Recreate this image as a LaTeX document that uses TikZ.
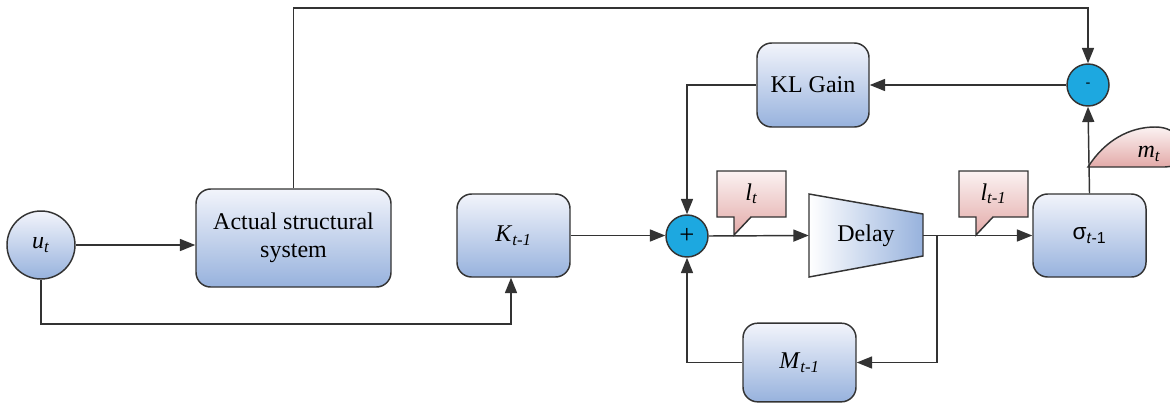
\documentclass[tikz,border=0pt]{standalone}
\usepackage{fontspec}
\setmainfont{Liberation Serif}
\setsansfont{Liberation Sans}
\usetikzlibrary{arrows.meta}
\definecolor{boxtop}{HTML}{F2F4FB}
\definecolor{boxbot}{HTML}{97B2DD}
\definecolor{caltop}{HTML}{FBF2F2}
\definecolor{calbot}{HTML}{E3AAA8}
\definecolor{sumc}{HTML}{1DA8E0}
\definecolor{linec}{HTML}{333333}
\begin{document}
\begin{tikzpicture}[x=0.75pt,y=-0.75pt,
  font=\rmfamily\fontsize{18}{21}\selectfont,
  blk/.style={draw=linec, line width=1.1pt, rounded corners=11pt, top color=boxtop, bottom color=boxbot, inner sep=0pt, align=center},
  sumnode/.style={circle, draw=linec, line width=1.1pt, fill=sumc, minimum size=31.5pt, inner sep=0pt},
  calloutbox/.style={draw=linec, line width=1.1pt, top color=caltop, bottom color=calbot},
  arr/.style={draw=linec, line width=1.1pt, -{Triangle[length=11.5pt,width=9pt]}},
  lbl/.style={inner sep=0pt}
]
\useasboundingbox (0,0) rectangle (1170,404);

% blocks
\node[circle, draw=linec, line width=1.1pt, top color=boxtop, bottom color=boxbot, minimum size=51pt, inner sep=0pt] (ut) at (41,245) {\textit{u}\textsubscript{\textit{t}}};
\node[blk, minimum width=146.25pt, minimum height=73.5pt] (asys) at (293.5,238) {Actual structural\\system};
\node[blk, minimum width=84.75pt, minimum height=62.25pt] (K) at (513.5,235.5) {\textit{K}\textsubscript{\textit{t-1}}};
\node[sumnode] (plus) at (687,236) {\fontsize{20}{20}\selectfont +};
\node[blk, minimum width=84pt, minimum height=63pt] (KL) at (813,85) {KL Gain};
\node[sumnode] (minus) at (1088,85) {\sffamily\fontsize{11}{11}\selectfont -};
\node[blk, minimum width=84.75pt, minimum height=62.25pt] (sigma) at (1089.5,235.5) {\sffamily\fontsize{17}{17}\selectfont σ\textsubscript{\textit{t}-1}};
\node[blk, minimum width=84.75pt, minimum height=59pt] (M) at (799.5,362.5) {\textit{M}\textsubscript{\textit{t-1}}};

% delay trapezoid
\path[draw=linec, line width=1.1pt, left color=white, right color=boxbot] (809,194) -- (923,214) -- (923,256) -- (809,277) -- cycle;
\node[lbl, minimum width=85.5pt, minimum height=62.25pt] (delay) at (866,235.5) {Delay};

% callouts
\path[calloutbox] (717,171) -- (786,171) -- (786,217) -- (751,217) -- (734,235) -- (734,217) -- (717,217) -- cycle;
\node[lbl] (lt) at (751.5,194) {\textit{l}\textsubscript{\textit{t}}};
\path[calloutbox] (959,171) -- (1028,171) -- (1028,217) -- (993,217) -- (976,235) -- (976,217) -- (959,217) -- cycle;
\node[lbl] (lt1) at (993.5,194) {\textit{l}\textsubscript{\textit{t-1}}};
\path[calloutbox] (1088,167) .. controls (1105,140) and (1130,127) .. (1155,127) .. controls (1190,127) and (1190,167) .. (1165,167) -- cycle;
\node[lbl] (mt) at (1149,154) {\textit{m}\textsubscript{\textit{t}}};

% connectors
\coordinate (top) at (0,8);
\coordinate (c1) at (511,324);
\coordinate (br) at (937,235.5);
\draw[arr] (ut) -- (ut -| asys.west);
\draw[arr] (ut.south) |- (c1) -- (c1 |- K.south);
\draw[arr] (asys.north) |- (top -| minus) -- (minus.north);
\draw[arr] (K.east) -- (K.east -| plus.west);
\draw[arr] (KL.west) -| (plus.north);
\draw[arr] (plus.east) -- (delay.west);
\draw[arr] (delay.east) -- (sigma.west);
\draw[arr] (br) |- (M.east);
\draw[arr] (M.west) -| (plus.south);
\draw[arr] (sigma.north) -- (minus.south);
\draw[arr] (minus.west) -- (KL.east);
\end{tikzpicture}
\end{document}
